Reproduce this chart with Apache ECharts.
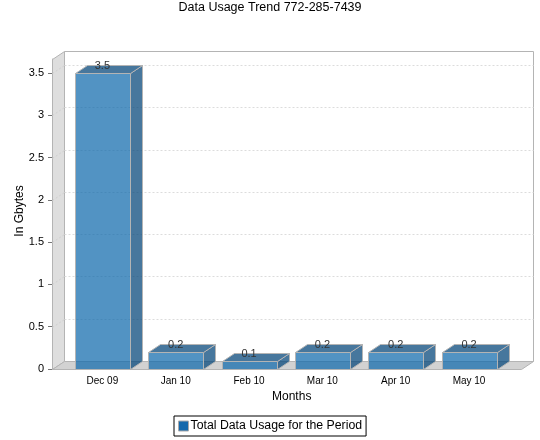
<!DOCTYPE html>
<html><head><meta charset="utf-8">
<style>html,body{margin:0;background:#fff}#c{width:540px;height:440px}</style>
<script src="https://cdn.jsdelivr.net/npm/echarts@6/dist/echarts.min.js"></script>
</head><body><div id="c"></div>
<script>
var categories = ['Dec 09','Jan 10','Feb 10','Mar 10','Apr 10','May 10'];
var usage = [3.5,0.2,0.1,0.2,0.2,0.2];
var yTicks = [0,0.5,1,1.5,2,2.5,3,3.5];
var yMax = 3.665;
var seriesName = 'Total Data Usage for the Period';

var plotL = 52, plotR = 521, dx = 12, dy = 8, edge = '#b4b4b4';
var font = 'Liberation Sans';
var chart = echarts.init(document.getElementById('c'), null, {renderer:'canvas'});

function poly(pts, fill, stroke, z2){
  return {type:'polygon', z2:z2||0, shape:{points:pts}, style:{fill:fill, stroke:stroke||null, lineWidth:1}};
}
function line(x1,y1,x2,y2,stroke,dash){
  return {type:'line', shape:{x1:x1,y1:y1,x2:x2,y2:y2}, style:{stroke:stroke, lineWidth:1, lineDash:dash||null}};
}
function frame(params, api){
  var b = Math.round(api.coord([0,0])[1]) + .5, t = Math.round(api.coord([0,yMax])[1]) + .5;
  var L = plotL + .5, R = plotR + .5;
  var kids = [
    poly([[L,t],[L+dx,t-dy],[L+dx,b-dy],[L,b]], '#dedede', edge),
    poly([[L,b],[L+dx,b-dy],[R+dx,b-dy],[R,b]], '#d2d2d2', edge),
    line(L+dx,t-dy,R+dx,t-dy,edge),
    line(R+dx,t-dy,R+dx,b-dy,edge)
  ];
  yTicks.forEach(function(v){
    if(!v) return;
    var y = Math.round(api.coord([0,v])[1]) + .5;
    kids.push(line(L,y,L+dx,y-dy,'#cfcfcf',[2,2]));
    kids.push(line(L+dx,y-dy,R+dx,y-dy,'#dcdcdc',[2,2]));
  });
  return {type:'group', children:kids};
}
function bar(params, api){
  var c = api.coord([api.value(0), api.value(1)]), base = api.coord([api.value(0), 0]);
  var w = api.size([1,0])[0] * 0.745;
  var x0 = Math.round(c[0]-w/2)+.5, x1 = x0 + Math.round(w), y0 = Math.round(c[1])+.5, y1 = Math.round(base[1])+.5;
  return {type:'group', children:[
    poly([[x0,y0],[x1,y0],[x1,y1],[x0,y1]], 'rgba(15,105,172,.72)', edge),
    poly([[x1,y0],[x1+dx,y0-dy],[x1+dx,y1-dy],[x1,y1]], 'rgba(10,74,124,.75)', edge),
    poly([[x0,y0],[x0+dx,y0-dy],[x1+dx,y0-dy],[x1,y0]], 'rgba(10,74,124,.75)', edge),
    {type:'text', z2:10, style:{text:String(api.value(1)), x:c[0], y:c[1]-7, align:'center', verticalAlign:'middle', fill:'#333', font:'11px "'+font+'"'}}
  ]};
}
chart.setOption({
  animation:false,
  backgroundColor:'#fff',
  title:{text:'Data Usage Trend 772-285-7439', left:'center', top:-4,
    textStyle:{fontFamily:font,fontSize:12.5,fontWeight:'normal',color:'#000'}},
  legend:{left:174, top:416, padding:[4,4,4,4], itemGap:0, itemWidth:10, itemHeight:10,
    borderColor:'#000', borderWidth:1, borderRadius:0, backgroundColor:'#fff',
    data:[{name:seriesName, icon:'rect', itemStyle:{color:'#1569ac', borderColor:'#aaa', borderWidth:1, opacity:1}}],
    textStyle:{fontFamily:font,fontSize:12.3,color:'#000',padding:[0,0,0,-3]}},
  grid:{left:65.7, width:440, top:59, bottom:71},
  xAxis:{type:'category', data:categories, name:'Months', nameLocation:'middle', nameGap:21,
    nameTextStyle:{fontFamily:font,fontSize:12,color:'#000',padding:[0,0,0,12]},
    axisLine:{show:false}, axisTick:{show:false},
    axisLabel:{fontFamily:font,fontSize:10,color:'#000',margin:7}},
  yAxis:{type:'value', min:0, max:yMax, offset:13.7, name:'In Gbytes', nameLocation:'middle', nameGap:26,
    nameRotate:90, nameMoveOverlap:false,
    nameTextStyle:{fontFamily:font,fontSize:12,color:'#000',padding:[0,0,0,6]},
    axisLine:{show:true,lineStyle:{color:edge}},
    axisTick:{show:true,length:4,lineStyle:{color:'#777'},customValues:yTicks},
    splitLine:{show:false},
    axisLabel:{fontFamily:font,fontSize:11,color:'#000',margin:8,customValues:yTicks}},
  series:[
    {type:'custom', silent:true, z:1, renderItem:frame, data:[[0,0]], legendHoverLink:false, tooltip:{show:false}},
    {type:'custom', name:seriesName, z:2, renderItem:bar, itemStyle:{color:'#1569ac'},
     encode:{x:0,y:1}, data:usage.map(function(v,i){return [i,v];})}
  ]
});
</script></body></html>
